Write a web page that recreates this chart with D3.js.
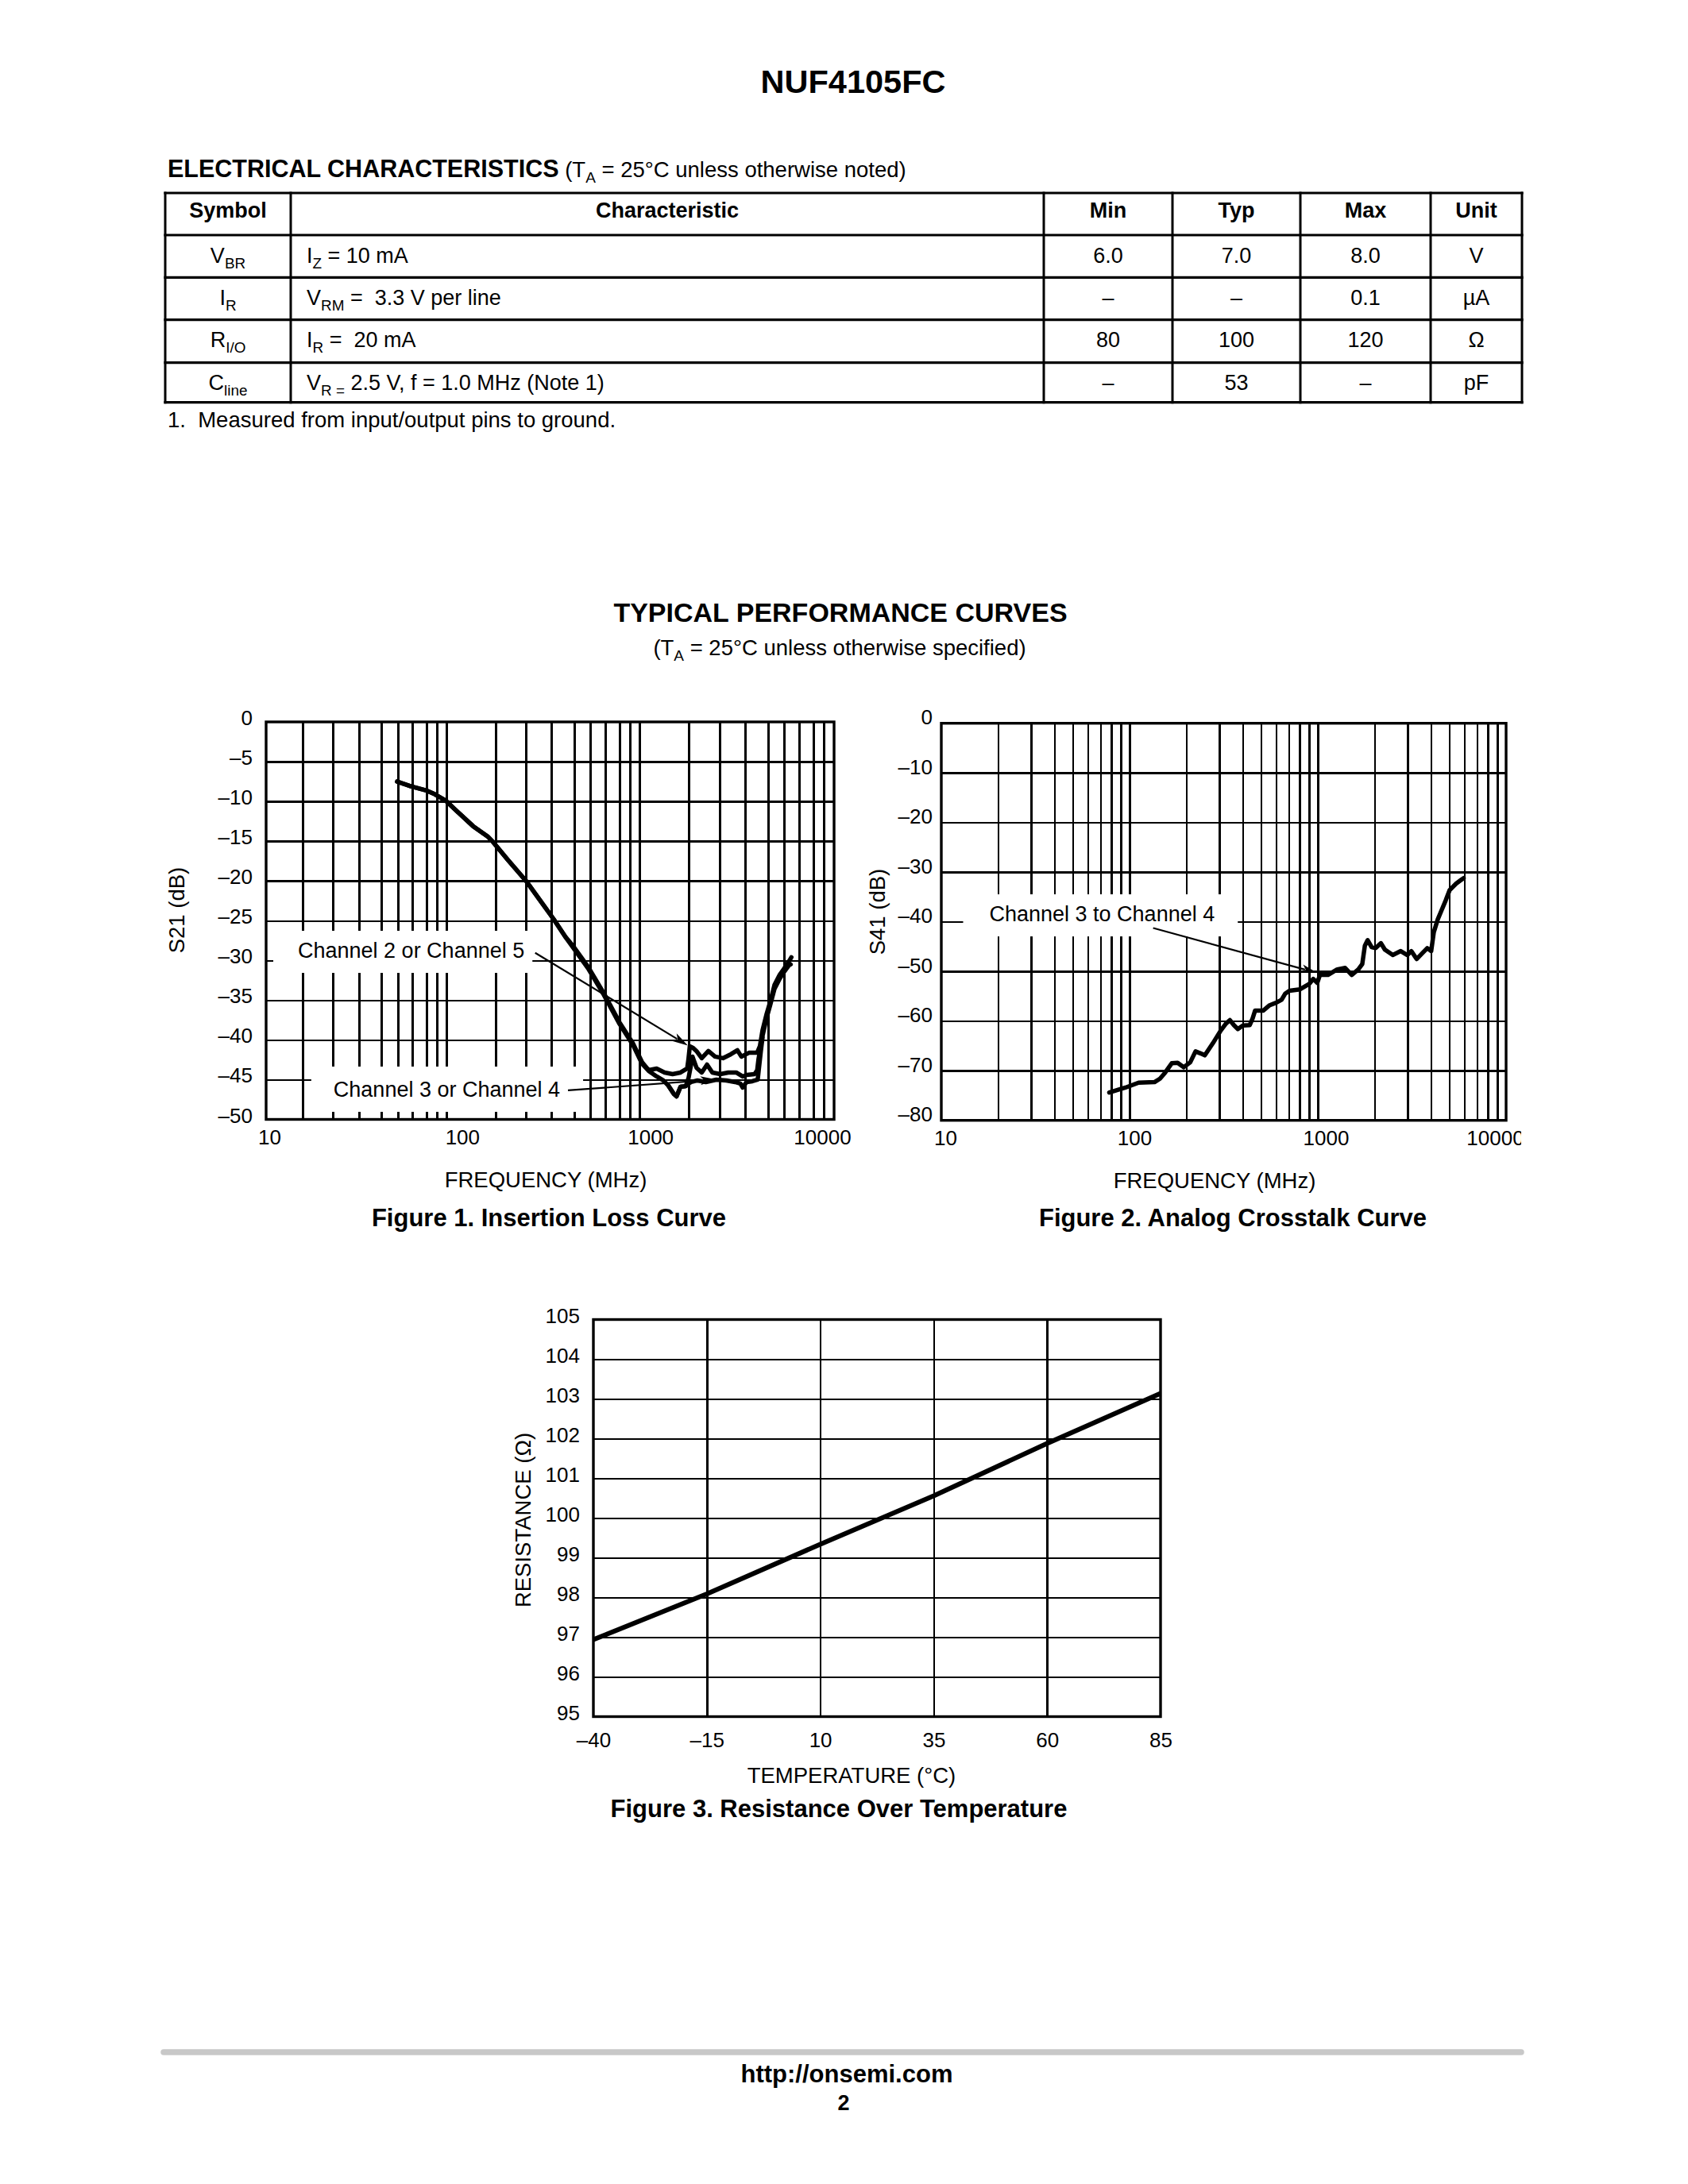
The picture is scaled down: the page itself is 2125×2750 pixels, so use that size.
<!DOCTYPE html>
<html>
<head>
<meta charset="utf-8">
<script src="https://cdn.jsdelivr.net/npm/d3@7"></script>
<style>
  html, body { margin: 0; padding: 0; background: #fff; }
  svg { display: block; }
  text { font-family: "Liberation Sans", Arial, Helvetica, sans-serif; fill: #000; }
</style>
</head>
<body>
<svg id="page" width="2125" height="2750"></svg>
<script>
// ================= DATA =================
const pageTitle = "NUF4105FC";
const tableHeaders = ["Symbol", "Characteristic", "Min", "Typ", "Max", "Unit"];
// rich-text segments: [text, isSubscript]
const tableSymbols = [
  [["V", 0], ["BR", 1]],
  [["I", 0], ["R", 1]],
  [["R", 0], ["I/O", 1]],
  [["C", 0], ["line", 1]]
];
const tableConditions = [
  [["I", 0], ["Z", 1], [" = 10 mA", 0]],
  [["V", 0], ["RM", 1], [" =  3.3 V per line", 0]],
  [["I", 0], ["R", 1], [" =  20 mA", 0]],
  [["V", 0], ["R =", 1], [" 2.5 V, f = 1.0 MHz (Note 1)", 0]]
];
const tableMin  = ["6.0", "\u2013", "80", "\u2013"];
const tableTyp  = ["7.0", "\u2013", "100", "53"];
const tableMax  = ["8.0", "0.1", "120", "\u2013"];
const tableUnit = ["V", "\u00B5A", "\u03A9", "pF"];
const tableNote = "1.  Measured from input/output pins to ground.";

const freqTickLabels = [10, 100, 1000, 10000];
const fig1YTicks = [0, -5, -10, -15, -20, -25, -30, -35, -40, -45, -50];
const fig2YTicks = [0, -10, -20, -30, -40, -50, -60, -70, -80];
const fig3XTicks = [-40, -15, 10, 35, 60, 85];
const fig3YTicks = [95, 96, 97, 98, 99, 100, 101, 102, 103, 104, 105];

// Figure 1 vertical grid (as printed in the reference, MHz)
const fig1GridFreq = [15.6, 22.5, 31, 40.6, 49.7, 59.2, 70.4, 79.8, 89.6,
  163, 236, 321, 425, 515, 619, 737, 835, 938,
  1707, 2488, 3389, 4485, 5441, 6537, 7780, 8820];
// Figure 2 vertical grid (MHz)
const fig2GridFreq = [20, 30, 40, 50, 60, 70, 80, 90, 100,
  200, 300, 400, 500, 600, 700, 800, 900, 1000,
  2000, 3000, 4000, 5000, 6000, 7000, 8000, 9000];

// Figure 1 : Insertion loss, S21 (dB) vs frequency (MHz)
const fig1Ch25 = [
  [49.2, -7.5], [58.2, -8.1], [69.7, -8.6], [77.8, -9.1], [88.8, -9.9], [103.5, -11.4],
  [123.8, -13.1], [147.9, -14.4], [158, -15.1], [190, -17.4], [236, -20.0], [275, -22.2],
  [330, -24.8], [380, -27.0], [419, -28.2], [502, -30.8], [607, -34.1], [736, -37.8],
  [865, -40.4], [968, -42.8], [1049, -43.8], [1156, -43.6], [1274, -44.1], [1403, -44.3],
  [1545, -44.1], [1675, -43.6], [1700, -42.5], [1730, -40.8], [1800, -41.0], [1876, -41.4],
  [2000, -42.3], [2168, -41.4], [2350, -42.1], [2588, -42.3], [2851, -41.8], [3086, -41.3],
  [3238, -42.1], [3566, -41.6], [3927, -41.6], [4056, -40.8], [4188, -38.8], [4395, -36.8],
  [4614, -35.1], [4843, -33.1], [5164, -31.8], [5420, -31.1], [5781, -30.1], [5950, -29.6]
];
const fig1Ch34a = [
  [49.2, -7.5], [58.2, -8.1], [69.7, -8.6], [77.8, -9.1], [88.8, -9.9], [103.5, -11.4],
  [123.8, -13.1], [147.9, -14.4], [158, -15.1], [190, -17.4], [236, -20.0], [275, -22.2],
  [330, -24.8], [380, -27.0], [419, -28.4], [502, -31.0], [607, -34.3], [736, -38.0],
  [865, -40.6], [968, -43.0], [1049, -43.9], [1156, -44.6], [1253, -45.1], [1337, -45.8],
  [1425, -46.8], [1472, -47.1], [1545, -45.9], [1648, -45.8], [1703, -44.8], [1760, -43.0],
  [1787, -42.1], [1876, -43.5], [2000, -44.1], [2133, -43.1], [2275, -44.1], [2506, -44.3],
  [2760, -44.1], [3040, -44.1], [3290, -44.6], [3452, -44.4], [3802, -44.3], [3927, -43.8],
  [3990, -42.4], [4188, -39.5], [4395, -37.3], [4614, -35.5], [4843, -33.6], [5164, -32.3],
  [5420, -31.5], [5781, -30.6], [5900, -30.5]
];
const fig1Ch34b = [
  [1337, -45.8], [1425, -46.8], [1472, -47.1], [1545, -45.9], [1648, -45.8], [1703, -45.5],
  [1760, -45.3], [1900, -45.1], [2100, -45.3], [2388, -45.0], [2700, -45.1], [3000, -45.3],
  [3200, -45.5], [3290, -46.0], [3450, -45.3], [3700, -45.2], [3950, -45.0], [4000, -43.8],
  [4100, -41.5], [4188, -39.7]
];
// Figure 2 : Analog crosstalk, S41 (dB) vs frequency (MHz)
const fig2Ch3to4 = [
  [78, -74.4], [95, -73.4], [111.7, -72.4], [135.6, -72.3], [145, -71.6], [154.4, -70.4],
  [167.5, -68.5], [180, -68.4], [193.8, -69.3], [210, -68.3], [224, -66.1], [238, -66.5],
  [251, -66.9], [276.6, -64.5], [305, -61.9], [325, -60.5], [341, -59.8], [358, -60.8],
  [376, -61.6], [400, -60.9], [435, -60.8], [450, -59.5], [464, -57.9], [512, -57.9],
  [555, -56.8], [600, -56.3], [642, -55.7], [670, -54.5], [707, -53.9], [805, -53.6],
  [901, -52.5], [946, -51.5], [993, -52.3], [1026, -50.7], [1132, -50.7], [1267, -49.6],
  [1397, -49.3], [1514, -50.7], [1641, -49.6], [1722, -48.5], [1778, -44.8], [1839, -43.7],
  [1931, -45.1], [2028, -45.3], [2164, -44.3], [2271, -45.6], [2502, -46.7], [2756, -45.9],
  [2989, -46.7], [3138, -45.9], [3349, -47.5], [3575, -46.4], [3813, -45.3], [4000, -45.9],
  [4130, -42.1], [4335, -39.5], [4550, -37.6], [4776, -35.7], [5014, -33.6], [5433, -32.3],
  [5800, -31.5], [5950, -31.2]
];
// Figure 3 : Resistance (ohm) vs temperature (degC)
const fig3Temp = [-40, -15, 10, 35, 60, 85];
const fig3Res  = [96.94, 98.09, 99.34, 100.56, 101.88, 103.14];

// annotations: text anchor [freq, dB], arrow from, arrow to
const fig1Notes = [
  { label: "Channel 2 or Channel 5", at: [14.72, -29.67], from: [263.7, -29.04], to: [1690, -40.7], pad: [31, 10, 10, 13] },
  { label: "Channel 3 or Channel 4", at: [22.7, -47.15], from: [393, -46.35], to: [2386, -44.98], pad: [28, 29, 14, 13] }
];
const fig2Notes = [
  { label: "Channel 3 to Channel 4", at: [18.0, -39.9], from: [133.4, -41.25], to: [993, -50.3], pad: [33, 29, 10, 13] }
];

// ================= DRAWING =================
const svg = d3.select("#page");
svg.append("rect").attr("width", 2125).attr("height", 2750).attr("fill", "#fff");

function rich(parent, x, y, segs, size, anchor, weight) {
  const t = parent.append("text")
    .attr("x", x).attr("y", y)
    .attr("text-anchor", anchor || "start")
    .style("font-size", size + "px")
    .style("font-weight", weight || "normal")
    .style("white-space", "pre");
  let low = false;
  const sh = size * 0.26;
  segs.forEach(([s, sub]) => {
    const ts = t.append("tspan").text(s);
    if (sub) {
      ts.style("font-size", (size * 0.7) + "px");
      if (!low) { ts.attr("dy", sh); low = true; }
    } else if (low) { ts.attr("dy", -sh); low = false; }
  });
  return t;
}

// ---- page title ----
svg.append("text").attr("x", 1074).attr("y", 117).attr("text-anchor", "middle")
  .style("font-size", "41.5px").style("font-weight", "bold").text(pageTitle);

// ---- electrical characteristics heading ----
{
  const t = svg.append("text").attr("x", 211).attr("y", 222.7).style("white-space", "pre");
  t.append("tspan").style("font-size", "30.5px").style("font-weight", "bold").text("ELECTRICAL CHARACTERISTICS");
  t.append("tspan").style("font-size", "27.5px").text(" (T");
  t.append("tspan").style("font-size", "19px").attr("dy", 7).text("A");
  t.append("tspan").style("font-size", "27.5px").attr("dy", -7).text(" = 25\u00B0C unless otherwise noted)");
}

// ---- table ----
const tblX = [208, 366, 1314, 1476, 1637, 1801, 1916];
const tblY = [243, 296, 349.3, 402.7, 456.7, 506.7];
const tbl = svg.append("g");
tbl.selectAll("line.h").data(tblY).join("line").attr("class", "h")
  .attr("x1", tblX[0]).attr("x2", tblX[tblX.length - 1]).attr("y1", d => d).attr("y2", d => d)
  .attr("stroke", "#000").attr("stroke-width", 3.2).attr("stroke-linecap", "square");
tbl.selectAll("line.v").data(tblX).join("line").attr("class", "v")
  .attr("y1", tblY[0]).attr("y2", tblY[tblY.length - 1]).attr("x1", d => d).attr("x2", d => d)
  .attr("stroke", "#000").attr("stroke-width", 3).attr("stroke-linecap", "square");
const colCenter = i => (tblX[i] + tblX[i + 1]) / 2;
tableHeaders.forEach((h, i) => {
  tbl.append("text").attr("x", colCenter(i)).attr("y", 274).attr("text-anchor", "middle")
    .style("font-size", "27px").style("font-weight", "bold").text(h);
});
const rowBase = [330.5, 383.8, 437, 490.5];
tableSymbols.forEach((s, r) => {
  rich(tbl, colCenter(0), rowBase[r], s, 27, "middle");
  rich(tbl, tblX[1] + 20, rowBase[r], tableConditions[r], 27, "start");
  [tableMin, tableTyp, tableMax, tableUnit].forEach((col, c) => {
    tbl.append("text").attr("x", colCenter(c + 2)).attr("y", rowBase[r]).attr("text-anchor", "middle")
      .style("font-size", "27px").text(col[r]);
  });
});
svg.append("text").attr("x", 211).attr("y", 538).style("font-size", "27.5px").style("white-space", "pre").text(tableNote);

// ---- section heading ----
svg.append("text").attr("x", 1058).attr("y", 783).attr("text-anchor", "middle")
  .style("font-size", "34px").style("font-weight", "bold").text("TYPICAL PERFORMANCE CURVES");
{
  const t = svg.append("text").attr("x", 1057).attr("y", 825).attr("text-anchor", "middle").style("white-space", "pre");
  t.append("tspan").style("font-size", "27.5px").text("(T");
  t.append("tspan").style("font-size", "19px").attr("dy", 7).text("A");
  t.append("tspan").style("font-size", "27.5px").attr("dy", -7).text(" = 25\u00B0C unless otherwise specified)");
}

// ---- generic helpers for figures ----
function styleAxisText(g, size) {
  g.attr("font-family", null).attr("font-size", null);
  g.selectAll("text").style("font-size", size + "px").attr("fill", "#000");
}
function drawArrow(g, p0, p1) {
  const dx = p1[0] - p0[0], dy = p1[1] - p0[1];
  const L = Math.hypot(dx, dy), ux = dx / L, uy = dy / L;
  const hl = 20, hw = 5.5;
  const bx = p1[0] - ux * hl, by = p1[1] - uy * hl;
  g.append("line").attr("x1", p0[0]).attr("y1", p0[1]).attr("x2", bx + ux * 4).attr("y2", by + uy * 4)
    .attr("stroke", "#000").attr("stroke-width", 2.2);
  g.append("path").attr("d", `M${p1[0]},${p1[1]}L${bx - uy * hw},${by + ux * hw}L${bx + ux * 5},${by + uy * 5}L${bx + uy * hw},${by - ux * hw}Z`)
    .attr("fill", "#000");
}
function annotate(g, x, y, notes) {
  notes.forEach(n => {
    const t = g.append("text").attr("x", x(n.at[0])).attr("y", y(n.at[1]))
      .style("font-size", "27px").text(n.label);
    const bb = t.node().getBBox();
    g.insert("rect", "text")
      .attr("x", bb.x - n.pad[0]).attr("y", bb.y - n.pad[2])
      .attr("width", bb.width + n.pad[0] + n.pad[1]).attr("height", bb.height + n.pad[2] + n.pad[3])
      .attr("fill", "#fff");
  });
}
function gridStyle(sel, w) {
  sel.attr("stroke", "#000").attr("stroke-width", w).attr("shape-rendering", "crispEdges");
}

const logFmt = d3.format("d");
const dbFmt = v => v === 0 ? "0" : "\u2013" + Math.abs(v);

// ================= FIGURE 1 =================
{
  const x = d3.scaleLog().domain([10, 10000]).range([335, 1050]);
  const y = d3.scaleLinear().domain([-50, 0]).range([1409.5, 909]);
  const W = x.range()[1] - x.range()[0], H = y.range()[0] - y.range()[1];
  const g = svg.append("g");
  g.append("g").attr("transform", `translate(0,${y(-50)})`)
    .call(d3.axisBottom(x).tickValues(fig1GridFreq).tickSize(-H).tickFormat(""))
    .call(a => a.select(".domain").remove())
    .selectAll("line").call(gridStyle, 2.5);
  g.append("g").attr("transform", `translate(${x(10)},0)`)
    .call(d3.axisLeft(y).tickValues(fig1YTicks.slice(1, -1)).tickSize(-W).tickFormat(""))
    .call(a => a.select(".domain").remove())
    .selectAll("line").call(gridStyle, 2.5);
  const ann = g.append("g");
  annotate(ann, x, y, fig1Notes);
  g.append("rect").attr("x", x(10)).attr("y", y(0)).attr("width", W).attr("height", H)
    .attr("fill", "none").attr("stroke", "#000").attr("stroke-width", 3.4);
  // y labels
  const ya = g.append("g").attr("transform", `translate(${x(10)},0)`)
    .call(d3.axisLeft(y).tickValues(fig1YTicks).tickSize(0).tickPadding(17).tickFormat(dbFmt));
  ya.select(".domain").remove(); styleAxisText(ya, 26); ya.selectAll("text").attr("dy", 3.5);
  // x labels
  const xa = g.append("g").attr("transform", `translate(0,${y(-50)})`)
    .call(d3.axisBottom(x).tickValues(freqTickLabels).tickSize(0).tickPadding(13).tickFormat(logFmt));
  xa.select(".domain").remove(); styleAxisText(xa, 26);
  const nudge1 = [4, 8.5, 7, -15];
  xa.selectAll("text").attr("dx", (d, i) => nudge1[i]);
  // curves
  const line = d3.line().x(d => x(d[0])).y(d => y(d[1]));
  [fig1Ch34b, fig1Ch34a, fig1Ch25].forEach(s => {
    g.append("path").attr("d", line(s)).attr("fill", "none").attr("stroke", "#000")
      .attr("stroke-width", 5.5).attr("stroke-linejoin", "round").attr("stroke-linecap", "round");
  });
  fig1Notes.forEach(n => drawArrow(g, [x(n.from[0]), y(n.from[1])], [x(n.to[0]), y(n.to[1])]));
  g.append("text").attr("transform", "translate(232,1146) rotate(-90)").attr("text-anchor", "middle")
    .style("font-size", "27.5px").text("S21 (dB)");
  g.append("text").attr("x", 687).attr("y", 1495).attr("text-anchor", "middle")
    .style("font-size", "27.5px").text("FREQUENCY (MHz)");
  g.append("text").attr("x", 691).attr("y", 1544).attr("text-anchor", "middle")
    .style("font-size", "31px").style("font-weight", "bold").text("Figure 1. Insertion Loss Curve");
}

// ================= FIGURE 2 =================
{
  const x = d3.scaleLog().domain([10, 10000]).range([1185, 1896]);
  const y = d3.scaleLinear().domain([-80, 0]).range([1410.7, 910.7]);
  const W = x.range()[1] - x.range()[0], H = y.range()[0] - y.range()[1];
  const g = svg.append("g");
  g.append("g").attr("transform", `translate(0,${y(-80)})`)
    .call(d3.axisBottom(x).tickValues(fig2GridFreq).tickSize(-H).tickFormat(""))
    .call(a => a.select(".domain").remove())
    .selectAll("line").call(gridStyle, 2.5);
  g.append("g").attr("transform", `translate(${x(10)},0)`)
    .call(d3.axisLeft(y).tickValues(fig2YTicks.slice(1, -1)).tickSize(-W).tickFormat(""))
    .call(a => a.select(".domain").remove())
    .selectAll("line").call(gridStyle, 2.5);
  const ann = g.append("g");
  annotate(ann, x, y, fig2Notes);
  g.append("rect").attr("x", x(10)).attr("y", y(0)).attr("width", W).attr("height", H)
    .attr("fill", "none").attr("stroke", "#000").attr("stroke-width", 3.4);
  const ya = g.append("g").attr("transform", `translate(${x(10)},0)`)
    .call(d3.axisLeft(y).tickValues(fig2YTicks).tickSize(0).tickPadding(11).tickFormat(dbFmt));
  ya.select(".domain").remove(); styleAxisText(ya, 26); ya.selectAll("text").attr("dy", 1);
  svg.append("clipPath").attr("id", "clipR").append("rect").attr("x", 0).attr("y", 0).attr("width", 1915).attr("height", 2750);
  const xa = g.append("g").attr("clip-path", "url(#clipR)").append("g").attr("transform", `translate(0,${y(-80)})`)
    .call(d3.axisBottom(x).tickValues(freqTickLabels).tickSize(0).tickPadding(13).tickFormat(logFmt));
  xa.select(".domain").remove(); styleAxisText(xa, 26);
  const nudge2 = [5, 6, 10, -14];
  xa.selectAll("text").attr("dx", (d, i) => nudge2[i]);
  const line = d3.line().x(d => x(d[0])).y(d => y(d[1]));
  g.append("path").attr("d", line(fig2Ch3to4)).attr("fill", "none").attr("stroke", "#000")
    .attr("stroke-width", 5.5).attr("stroke-linejoin", "round").attr("stroke-linecap", "round");
  fig2Notes.forEach(n => drawArrow(g, [x(n.from[0]), y(n.from[1])], [x(n.to[0]), y(n.to[1])]));
  g.append("text").attr("transform", "translate(1114,1148) rotate(-90)").attr("text-anchor", "middle")
    .style("font-size", "27.5px").text("S41 (dB)");
  g.append("text").attr("x", 1529).attr("y", 1496).attr("text-anchor", "middle")
    .style("font-size", "27.5px").text("FREQUENCY (MHz)");
  g.append("text").attr("x", 1552).attr("y", 1544).attr("text-anchor", "middle")
    .style("font-size", "31px").style("font-weight", "bold").text("Figure 2. Analog Crosstalk Curve");
}

// ================= FIGURE 3 =================
{
  const x = d3.scaleLinear().domain([-40, 85]).range([747, 1461]);
  const y = d3.scaleLinear().domain([95, 105]).range([2161.5, 1661.5]);
  const W = x.range()[1] - x.range()[0], H = y.range()[0] - y.range()[1];
  const g = svg.append("g");
  g.append("g").attr("transform", `translate(0,${y(95)})`)
    .call(d3.axisBottom(x).tickValues(fig3XTicks.slice(1, -1)).tickSize(-H).tickFormat(""))
    .call(a => a.select(".domain").remove())
    .selectAll("line").call(gridStyle, 2.5);
  g.append("g").attr("transform", `translate(${x(-40)},0)`)
    .call(d3.axisLeft(y).tickValues(fig3YTicks.slice(1, -1)).tickSize(-W).tickFormat(""))
    .call(a => a.select(".domain").remove())
    .selectAll("line").call(gridStyle, 2.5);
  g.append("rect").attr("x", x(-40)).attr("y", y(105)).attr("width", W).attr("height", H)
    .attr("fill", "none").attr("stroke", "#000").attr("stroke-width", 3.4);
  const ya = g.append("g").attr("transform", `translate(${x(-40)},0)`)
    .call(d3.axisLeft(y).tickValues(fig3YTicks).tickSize(0).tickPadding(17).tickFormat(d3.format("d")));
  ya.select(".domain").remove(); styleAxisText(ya, 26); ya.selectAll("text").attr("dy", 3.5);
  const xa = g.append("g").attr("transform", `translate(0,${y(95)})`)
    .call(d3.axisBottom(x).tickValues(fig3XTicks).tickSize(0).tickPadding(20.5).tickFormat(v => v < 0 ? "\u2013" + Math.abs(v) : String(v)));
  xa.select(".domain").remove(); styleAxisText(xa, 26);
  const pts = fig3Temp.map((t, i) => [t, fig3Res[i]]);
  g.append("path").attr("d", d3.line().x(d => x(d[0])).y(d => y(d[1]))(pts))
    .attr("fill", "none").attr("stroke", "#000").attr("stroke-width", 6).attr("stroke-linejoin", "round");
  g.append("text").attr("transform", "translate(668,1914) rotate(-90)").attr("text-anchor", "middle")
    .style("font-size", "27.5px").text("RESISTANCE (\u03A9)");
  g.append("text").attr("x", 1072).attr("y", 2245).attr("text-anchor", "middle")
    .style("font-size", "27.5px").text("TEMPERATURE (\u00B0C)");
  g.append("text").attr("x", 1056).attr("y", 2288).attr("text-anchor", "middle")
    .style("font-size", "31px").style("font-weight", "bold").text("Figure 3. Resistance Over Temperature");
}

// ---- footer ----
svg.append("line").attr("x1", 206).attr("x2", 1915).attr("y1", 2584).attr("y2", 2584)
  .attr("stroke", "#c8c8c8").attr("stroke-width", 7.5).attr("stroke-linecap", "round");
svg.append("text").attr("x", 1066).attr("y", 2622).attr("text-anchor", "middle")
  .style("font-size", "31px").style("font-weight", "bold").text("http://onsemi.com");
svg.append("text").attr("x", 1062).attr("y", 2657).attr("text-anchor", "middle")
  .style("font-size", "27px").style("font-weight", "bold").text("2");
</script>
</body>
</html>
